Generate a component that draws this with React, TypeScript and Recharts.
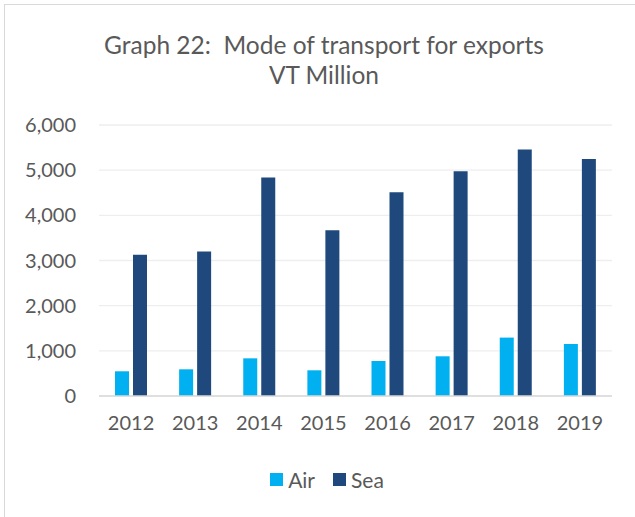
import React from 'react';
import { Bar, BarChart, CartesianGrid, Legend, XAxis, YAxis } from 'recharts';

const years = ['2012', '2013', '2014', '2015', '2016', '2017', '2018', '2019'];
const air = [547, 591, 834, 569, 775, 879, 1293, 1151];
const sea = [3130, 3197, 4835, 3668, 4510, 4975, 5455, 5247];
const yTicks = [0, 1000, 2000, 3000, 4000, 5000, 6000];

const data = years.map((year, i) => ({ year, Air: air[i], Sea: sea[i] }));

const FONT = 'Lato, "Open Sans", sans-serif';
const TEXT = '#595959';

function LegendBox({ payload }: any) {
  return (
    <div
      style={{
        height: 50,
        display: 'flex',
        justifyContent: 'center',
        alignItems: 'flex-start',
        paddingTop: 0,
        paddingLeft: 42,
        boxSizing: 'border-box',
        fontFamily: FONT,
        fontSize: 21,
        color: TEXT,
      }}
    >
      {(payload || []).map((p: any, i: number) => (
        <div key={p.value} style={{ display: 'flex', alignItems: 'center', marginLeft: i ? 18 : 0 }}>
          <span style={{ width: 13, height: 13, background: p.color, display: 'inline-block', marginRight: 5 }} />
          <span>{p.value}</span>
        </div>
      ))}
    </div>
  );
}

export default function App() {
  return (
    <div style={{ position: 'absolute', left: 0, top: 0, width: 635, height: 517, overflow: 'hidden', background: '#fff' }}>
      <div
        style={{
          position: 'absolute',
          left: 4,
          top: 4,
          width: 700,
          height: 600,
          border: '1px solid #d9d9d9',
        }}
      />
      <div
        style={{
          position: 'absolute',
          top: 30,
          left: 0,
          width: 648,
          textAlign: 'center',
          fontFamily: FONT,
          fontSize: 24.5,
          lineHeight: '30px',
          color: TEXT,
          whiteSpace: 'pre',
        }}
      >
        {'Graph 22:  Mode of transport for exports\nVT Million'}
      </div>
      <div style={{ position: 'absolute', left: 0, top: 0 }}>
        <BarChart
          width={635}
          height={517}
          data={data}
          margin={{ top: 125, right: 23, left: 0, bottom: 0 }}
          barSize={14}
          barGap={4}
        >
          <CartesianGrid vertical={false} stroke="#eeeeee" strokeWidth={1.3} />
          <XAxis
            dataKey="year"
            height={71}
            tickLine={false}
            axisLine={{ stroke: '#d9d9d9', strokeWidth: 1.5 }}
            tickSize={0}
            tickMargin={20}
            tick={{ fill: TEXT, fontSize: 20, fontFamily: FONT }}
          />
          <YAxis
            width={99}
            domain={[0, 6000]}
            ticks={yTicks}
            interval={0}
            axisLine={false}
            tickLine={false}
            tickSize={0}
            tickMargin={23}
            tickFormatter={(v: number) => v.toLocaleString('en-US')}
            tick={{ fill: TEXT, fontSize: 20, fontFamily: FONT }}
          />
          <Legend verticalAlign="bottom" content={<LegendBox />} />
          <Bar dataKey="Air" fill="#00b0f0" isAnimationActive={false} />
          <Bar dataKey="Sea" fill="#1f497d" isAnimationActive={false} />
        </BarChart>
      </div>
    </div>
  );
}
